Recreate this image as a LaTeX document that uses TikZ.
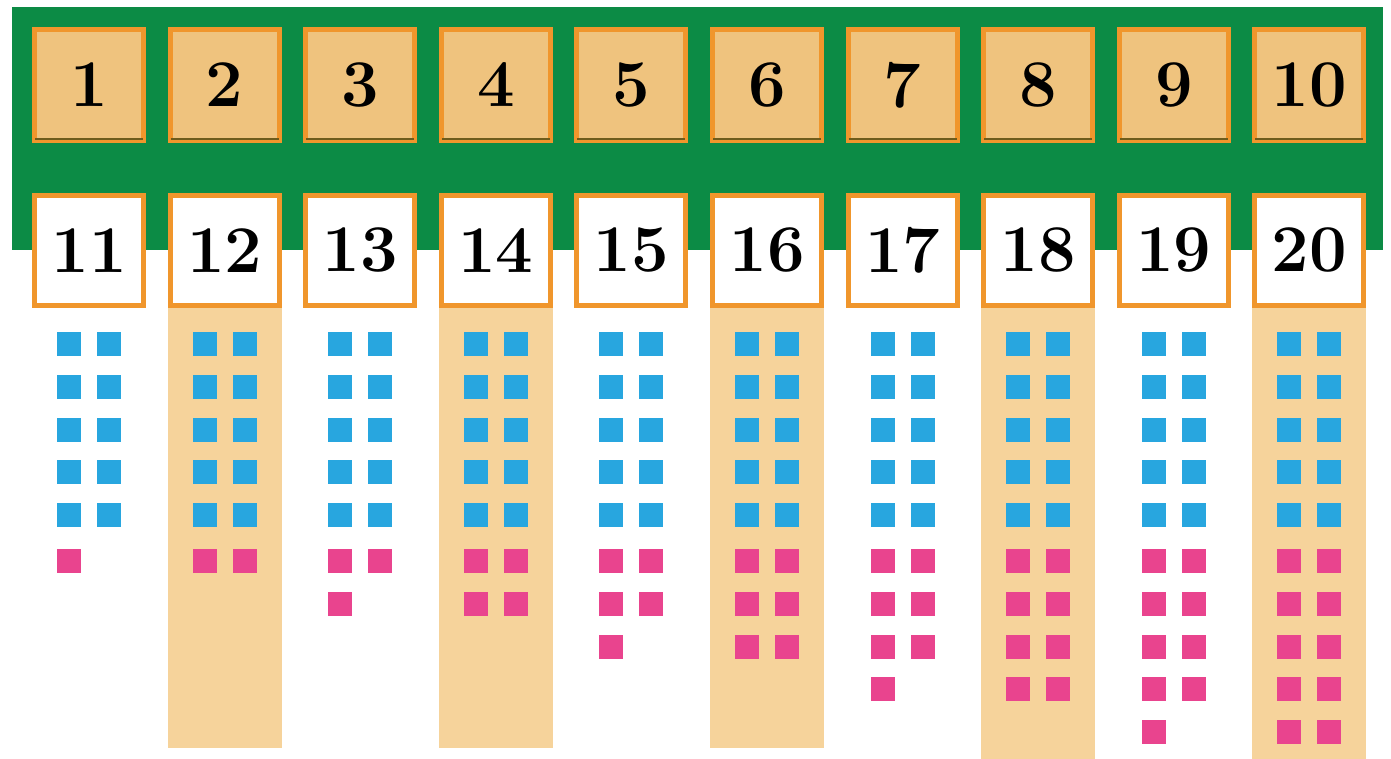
\documentclass[tikz,border=0pt]{standalone}
\usepackage{amsmath}
\usetikzlibrary{positioning}

\definecolor{boardgreen}{HTML}{0C8B45}
\definecolor{frameorange}{HTML}{F0962C}
\definecolor{cardtan}{HTML}{EFC37E}
\definecolor{stripetan}{HTML}{F6D39B}
\definecolor{tileblue}{HTML}{28A6DF}
\definecolor{tilepink}{HTML}{E9448E}
\definecolor{shadowline}{HTML}{6E5C1C}

\begin{document}
\begin{tikzpicture}[x=0.02cm, y=-0.02cm]

    \tikzset{
        numcard/.style={draw=frameorange, line width=0.1cm, inner sep=0pt,
            minimum width=2.18cm, minimum height=2.22cm,
            font=\bfseries\fontsize{38}{44}\selectfont},
        topcard/.style={numcard, fill=cardtan},
        lowcard/.style={numcard, fill=white},
        tile/.style={minimum size=0.48cm, inner sep=0pt}
    }

    \def\pitch{135.6}
    \def\firstX{89}
    \def\halfW{57}

    % -------------------------------------------------------------
    % BACKGROUND AND GREEN BOARD
    % -------------------------------------------------------------
    \fill[white] (0, 0) rectangle (1391, 759);
    \fill[boardgreen] (12, 7) rectangle (1383, 250);

    % -------------------------------------------------------------
    % TAN STRIPES BELOW THE EVEN CARDS
    % -------------------------------------------------------------
    \foreach \n/\bot in {12/748, 14/748, 16/748, 18/759, 20/759} {
        \pgfmathsetmacro\cx{\firstX + \pitch*(\n - 11)}
        \fill[stripetan] (\cx - \halfW, 250) rectangle (\cx + \halfW, \bot);
    }

    % -------------------------------------------------------------
    % NUMBER CARDS
    % -------------------------------------------------------------
    \foreach \i in {1,...,10} {
        \pgfmathsetmacro\cx{\firstX + \pitch*(\i - 1)}
        \pgfmathtruncatemacro\j{\i + 10}
        \node[topcard] (t\i) at (\cx, 85) {\i};
        \draw[shadowline, line width=0.9pt]
            ([shift={(0.06cm, 0.08cm)}]t\i.south west) -- ([shift={(-0.06cm, 0.08cm)}]t\i.south east);
        \node[lowcard] (b\j) at (\cx, 250.5) {\j};
    }

    % -------------------------------------------------------------
    % TILES: 10 BLUE, THEN n-10 PINK, TWO PER ROW
    % -------------------------------------------------------------
    \foreach \n in {11,...,20} {
        \pgfmathsetmacro\cx{\firstX + \pitch*(\n - 11)}
        % blue block
        \foreach \r in {0,...,4} {
            \foreach \c in {0,1} {
                \fill[tileblue] (\cx - 20 + 40*\c - 12, 344.5 + 42.6*\r - 12) rectangle ++(24, 24);
            }
        }
        % pink block
        \pgfmathtruncatemacro\extra{\n - 10}
        \foreach \k in {1,...,\extra} {
            \pgfmathtruncatemacro\r{(\k - 1)/2}
            \pgfmathtruncatemacro\c{mod(\k - 1, 2)}
            \fill[tilepink] (\cx - 20 + 40*\c - 12, 561 + 42.75*\r - 12) rectangle ++(24, 24);
        }
    }

\end{tikzpicture}
\end{document}
